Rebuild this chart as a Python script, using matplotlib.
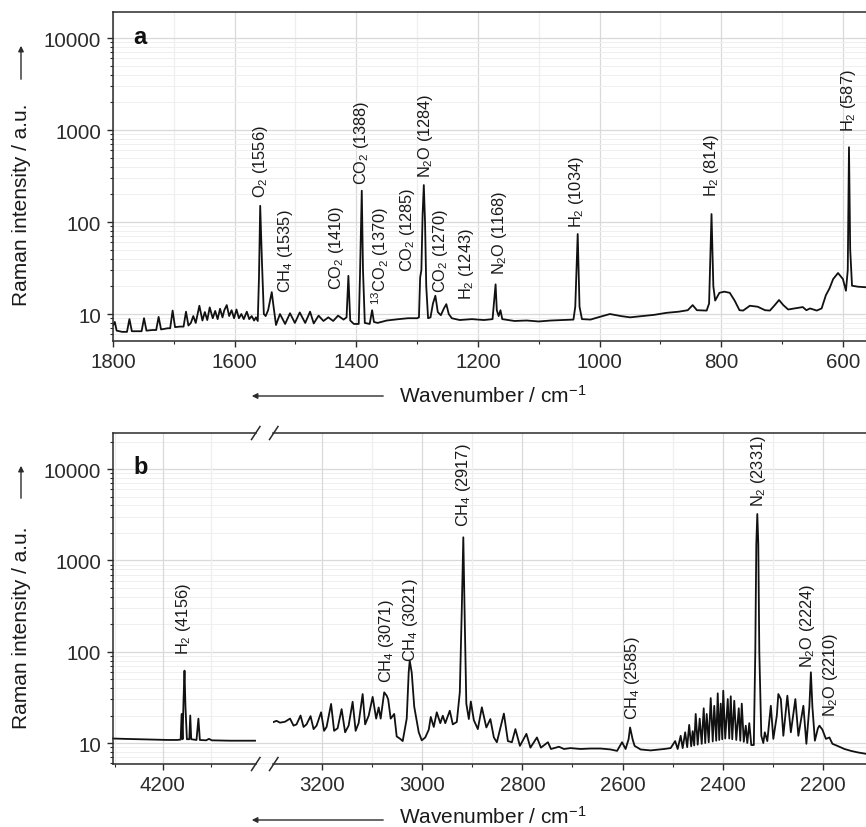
import numpy as np
import matplotlib
matplotlib.use('Agg')
import matplotlib.pyplot as plt
from matplotlib.ticker import MultipleLocator, LogLocator, NullFormatter, FixedLocator, FuncFormatter
from matplotlib.patches import FancyArrowPatch
from matplotlib.lines import Line2D

plt.rcParams['font.family'] = ['Liberation Sans', 'DejaVu Sans']
plt.rcParams['mathtext.fontset'] = 'custom'
plt.rcParams['mathtext.rm'] = 'Liberation Sans'
plt.rcParams['mathtext.it'] = 'Liberation Sans:italic'
plt.rcParams['mathtext.bf'] = 'Liberation Sans:bold'

# ---------------- data: panel a (wavenumber / intensity) ----------------
a_wn = [1800, 1797, 1794, 1785, 1777, 1773, 1769, 1760, 1753, 1749, 1745, 1735, 1729, 1725, 1721,
        1710, 1706, 1702, 1698, 1690, 1684, 1680, 1676, 1672, 1668, 1664, 1658, 1653, 1649, 1645,
        1641, 1636, 1632, 1628, 1624, 1620, 1617, 1613, 1609, 1605, 1601, 1597, 1593, 1589, 1585,
        1580, 1576, 1572, 1568, 1565, 1562, 1560, 1558, 1555, 1552, 1549, 1545, 1541, 1539, 1536,
        1532, 1525.5, 1517, 1509, 1501, 1493, 1484, 1476, 1470, 1462, 1454, 1446, 1438, 1430, 1421,
        1416, 1413, 1410, 1404, 1396, 1394, 1391, 1389, 1386, 1378, 1374, 1371, 1365, 1350, 1330,
        1315, 1300, 1297, 1295, 1293, 1291, 1289, 1287, 1285, 1282, 1278, 1274, 1270, 1266, 1261,
        1256, 1252, 1248, 1243, 1230, 1210, 1190, 1176, 1173, 1171, 1169, 1166, 1163, 1160, 1140,
        1120, 1100, 1080, 1060, 1043, 1040, 1036, 1033, 1029, 1015, 1000, 983, 965, 950, 930,
        910, 890, 870, 855, 847, 840, 824, 820, 816, 813, 810, 803, 795, 786, 778,
        770, 764, 753, 740, 728, 720, 712, 705, 698, 690, 680, 666, 660, 654, 643,
        635, 628, 622, 616, 608, 600, 595, 592, 590, 588, 585, 575, 562, 540]
a_int = [7.5, 8.2, 6.6, 6.4, 6.4, 8.8, 6.5, 6.5, 6.5, 9.0, 6.6, 6.7, 6.7, 9.3, 6.8,
         7.0, 7.0, 10.9, 7.2, 7.3, 7.3, 10.6, 7.5, 8.0, 9.5, 8.0, 12.3, 8.5, 10.5, 8.6,
         11.8, 9.0, 10.8, 8.8, 11.4, 9.2, 11.0, 12.5, 9.5, 11.0, 9.0, 11.2, 9.0, 10.0, 8.8,
         10.6, 8.8, 9.5, 8.5, 9.2, 8.4, 25, 150, 35, 10, 9.5, 11, 15, 17.3, 12,
         7.6, 10.0, 7.8, 10.2, 8.0, 10.4, 8.0, 10.6, 7.9, 9.6, 8.4, 9.2, 8.4, 9.6, 8.7,
         9.2, 26, 8.5, 7.8, 7.8, 25, 219, 30, 8.0, 7.8, 11.0, 8.2, 8.0, 8.5, 8.8,
         9.0, 9.0, 9.2, 25, 30, 120, 252, 100, 20, 9.0, 9.2, 13, 15.8, 10.5, 9.7,
         11.5, 12.8, 10, 9.0, 8.6, 8.8, 8.6, 8.8, 15, 21, 11, 9.5, 11, 8.8, 8.4,
         8.5, 8.3, 8.5, 8.6, 8.7, 12, 74, 12, 8.8, 8.7, 9.3, 10.0, 9.5, 9.2, 9.5,
         9.8, 10.3, 10.6, 11.0, 12.5, 11.0, 10.9, 13, 122, 20, 14, 17, 17.5, 17, 14,
         11, 10.9, 12.3, 12.0, 11, 10.9, 12.5, 14.2, 12.5, 11.2, 11.5, 11.9, 11.0, 11.5, 10.9,
         11.5, 16, 19, 24, 27.9, 24, 17.9, 30, 650, 50, 20.3, 19.8, 19.5, 19.5]

a_labels = ["O$_2$ (1556)", "CH$_4$ (1535)", "CO$_2$ (1410)", "CO$_2$ (1388)",
            "$^{13}$CO$_2$ (1370)", "CO$_2$ (1285)", "N$_2$O (1284)", "CO$_2$ (1270)",
            "H$_2$ (1243)", "N$_2$O (1168)", "H$_2$ (1034)", "H$_2$ (814)", "H$_2$ (587)"]
a_label_x = [1558, 1516, 1432, 1391, 1361, 1315, 1287, 1262, 1219, 1164, 1038, 816, 591]
a_label_y = [187, 17.3, 18.7, 259, 12.8, 29.6, 308, 17.2, 14.6, 27.2, 88, 193, 982]

# ---------------- data: panel b ----------------
b_left_wn = [4304, 4280, 4250, 4220, 4190, 4170, 4163, 4161, 4159, 4157, 4155, 4153, 4150,
             4145, 4143, 4141, 4130, 4126, 4123, 4110, 4104, 4098, 4060, 4030, 4008]
b_left_int = [11.2, 11.1, 11.0, 10.9, 10.8, 10.8, 10.9, 20.8, 11, 30, 62, 25, 11,
              11, 20, 11, 10.8, 18.5, 10.8, 10.7, 11.1, 10.7, 10.6, 10.6, 10.6]

b_right_wn = [3298, 3291, 3284, 3274, 3264, 3257, 3251, 3243, 3237, 3231, 3223, 3217, 3211, 3202,
              3196, 3191, 3182, 3176, 3169, 3161, 3154, 3147, 3139, 3133, 3127, 3119, 3114, 3107,
              3099, 3092, 3087, 3083, 3076, 3071, 3068, 3063, 3056, 3051, 3044, 3039, 3031, 3027,
              3025, 3021, 3016, 3007, 3001, 2994, 2987, 2983, 2977, 2971, 2964, 2959, 2954, 2945,
              2939, 2931, 2925, 2921, 2918, 2915, 2912, 2907, 2903, 2897, 2889, 2881, 2872, 2864,
              2857, 2851, 2837, 2829, 2821, 2814, 2805, 2792, 2784, 2771, 2763, 2749, 2743, 2727,
              2717, 2704, 2684, 2664, 2644, 2624, 2611, 2601, 2594, 2588, 2585, 2580, 2576, 2564,
              2544, 2517, 2504, 2495, 2490, 2484, 2480, 2475, 2471, 2467, 2463, 2460, 2457, 2454,
              2450, 2446, 2442, 2438, 2435, 2432, 2428, 2424, 2420, 2417, 2413, 2410, 2407, 2404,
              2401, 2399, 2395, 2390, 2387, 2384, 2381, 2377, 2373, 2368, 2365, 2362, 2358, 2354,
              2351, 2347, 2343, 2338, 2335, 2333, 2331, 2329, 2327, 2323, 2319, 2316, 2311, 2304,
              2299, 2292, 2289, 2284, 2279, 2271, 2264, 2255, 2249, 2239, 2233, 2227, 2224, 2221,
              2216, 2210, 2207, 2201, 2194, 2187, 2181, 2171, 2157, 2144, 2131, 2114, 2086]
b_right_int = [16.9, 17.5, 16.7, 17.1, 18.5, 15.5, 16.0, 20.0, 15.0, 16.0, 19.7, 14.2, 15.5, 21.7,
               13.6, 15.0, 26.8, 13.6, 14.5, 23.5, 13.1, 15.5, 28.3, 13.6, 16.5, 34.4, 16.0, 19.9,
               32.0, 18.5, 24.5, 18.5, 35.9, 33.0, 30, 18.5, 20.8, 11.8, 11.1, 10.5, 18.5, 60,
               79.6, 59, 25, 13.1, 10.7, 11.5, 14, 19.3, 15, 21.7, 16.5, 19.9, 16.5, 22.6,
               16.0, 17, 36, 300, 1790, 200, 27, 18.3, 28.5, 17.8, 14.2, 24.6, 14.8, 18.3,
               11.5, 10.2, 21.0, 10.5, 10.2, 14.2, 9.3, 12.6, 8.9, 11.5, 8.9, 10.2, 8.6, 9.1,
               8.6, 8.8, 8.6, 8.7, 8.7, 8.5, 8.2, 10.2, 8.6, 11, 14.8, 11, 9.3, 8.5,
               8.3, 8.6, 8.8, 10.5, 8.6, 12, 8.8, 13.1, 9.0, 15.8, 9.2, 13.5, 9.4, 20.8,
               9.6, 18.5, 9.8, 24, 10.0, 20.8, 10.2, 31, 10.4, 25.5, 10.6, 35, 10.8, 27,
               11.0, 37.4, 11.2, 30.3, 11.2, 32.5, 11.0, 29, 10.8, 24, 10.6, 27, 10.3, 15.5,
               10.0, 16.5, 9.5, 9.5, 100, 1500, 3221, 1500, 100, 12, 10, 13.1, 10.5, 25.6,
               11.1, 20, 34.4, 30.3, 12, 33, 13.1, 30.3, 12, 25.6, 9.8, 25, 59.5, 25,
               10.6, 14.5, 15.5, 14, 11.1, 11.5, 9.8, 9.3, 8.6, 8.2, 7.9, 7.6, 7.4]

b_left_labels = ["H$_2$ (4156)"]
b_left_label_x = [4157]
b_left_label_y = [94]
b_right_labels = ["CH$_4$ (3071)", "CH$_4$ (3021)", "CH$_4$ (2917)", "CH$_4$ (2585)",
                  "N$_2$ (2331)", "N$_2$O (2224)", "N$_2$O (2210)"]
b_right_label_x = [3071, 3023, 2917, 2581, 2329, 2231, 2184]
b_right_label_y = [46, 80, 2400, 18.3, 3980, 67.5, 19.9]

y_major = [10, 100, 1000, 10000]

# ---------------- figure ----------------
W, H = 866, 828
fig = plt.figure(figsize=(W / 100, H / 100), dpi=100)
fig.patch.set_facecolor('white')

INK = '#2b2b2b'
GRID_MAJ = '#d9d9d9'
GRID_MIN = '#efefef'
LABEL_FS = 11.8
TICK_FS = 14.8
LW = 1.3


def box(l, t, r, b):
    return [l / W, 1 - b / H, (r - l) / W, (b - t) / H]


def fx(px):
    return px / W


def fy(py):
    return 1 - py / H


def style_y(ax, ylim, show=True, hgrid=True):
    ax.set_yscale('log')
    ax.set_ylim(*ylim)
    ax.yaxis.set_major_locator(FixedLocator(y_major))
    ax.yaxis.set_major_formatter(FuncFormatter(lambda v, p: f'{int(round(v))}'))
    ax.yaxis.set_minor_locator(LogLocator(base=10, subs=np.arange(2, 10)))
    ax.yaxis.set_minor_formatter(NullFormatter())
    if hgrid:
        ax.grid(which='major', axis='y', color=GRID_MAJ, lw=0.9)
        ax.grid(which='minor', axis='y', color=GRID_MIN, lw=0.7)
    if show:
        ax.tick_params(axis='y', which='major', direction='out', length=4.5, width=1.0,
                       colors=INK, labelsize=TICK_FS, pad=4)
        ax.tick_params(axis='y', which='minor', direction='out', length=2.3, width=0.8, colors=INK)
    else:
        ax.tick_params(axis='y', which='both', left=False, labelleft=False)


def style_x(ax, xlim):
    ax.set_xlim(*xlim)
    ax.xaxis.set_major_locator(MultipleLocator(200))
    ax.xaxis.set_minor_locator(MultipleLocator(100))
    ax.grid(which='major', axis='x', color=GRID_MAJ, lw=0.9)
    ax.grid(which='minor', axis='x', color=GRID_MIN, lw=0.9)
    ax.tick_params(axis='x', which='major', direction='out', length=4.5, width=1.0,
                   colors=INK, labelsize=TICK_FS, pad=3.5)
    ax.tick_params(axis='x', which='minor', direction='out', length=2.5, width=0.8, colors=INK)
    ax.set_axisbelow(True)


def spines(ax, left=True, right=False):
    for s in ax.spines.values():
        s.set_color(INK)
        s.set_linewidth(1.1)
    ax.spines['right'].set_visible(right)
    ax.spines['left'].set_visible(left)


def labels(ax, texts, xs, ys):
    for t, x, y in zip(texts, xs, ys):
        ax.text(x, y, t, rotation=90, ha='center', va='bottom', fontsize=LABEL_FS,
                color='#1a1a1a')


# ---------------- panel a ----------------
ax_a = fig.add_axes(box(113, 13, 880, 342))
style_y(ax_a, (5.09, 19170))
style_x(ax_a, (1800, 539))
spines(ax_a)
ax_a.plot(a_wn, a_int, color='#111111', lw=LW)
labels(ax_a, a_labels, a_label_x, a_label_y)
ax_a.text(0.027, 0.905, 'a', transform=ax_a.transAxes, fontsize=17, fontweight='bold',
          color='#111111', ha='left', va='baseline')

# ---------------- panel b ----------------
B_TOP, B_BOT = 434, 765
ylim_b = (5.89, 24850)
ax_bg = fig.add_axes(box(113, B_TOP, 880, B_BOT), zorder=0)
style_y(ax_bg, ylim_b, show=False)
ax_bg.set_xlim(0, 1)
ax_bg.tick_params(axis='x', which='both', bottom=False, labelbottom=False)
for s in ax_bg.spines.values():
    s.set_visible(False)

ax_b1 = fig.add_axes(box(113, B_TOP, 256, B_BOT), zorder=1)
ax_b1.set_facecolor('none')
style_y(ax_b1, ylim_b, show=True, hgrid=False)
style_x(ax_b1, (4304, 4006))
spines(ax_b1, left=True)
ax_b1.plot(b_left_wn, b_left_int, color='#111111', lw=LW, clip_on=False)
labels(ax_b1, b_left_labels, b_left_label_x, b_left_label_y)
ax_b1.text(0.14, 0.88, 'b', transform=ax_b1.transAxes, fontsize=17, fontweight='bold',
           color='#111111', ha='left', va='baseline')

ax_b2 = fig.add_axes(box(273, B_TOP, 880, B_BOT), zorder=1)
ax_b2.set_facecolor('none')
style_y(ax_b2, ylim_b, show=False, hgrid=False)
style_x(ax_b2, (3298, 2086))
spines(ax_b2, left=False)
ax_b2.plot(b_right_wn, b_right_int, color='#111111', lw=LW)
labels(ax_b2, b_right_labels, b_right_label_x, b_right_label_y)

# break marks
for yy in (B_TOP, B_BOT):
    for x0 in (251.5, 269.5):
        fig.add_artist(Line2D([fx(x0), fx(x0 + 8.5)], [fy(yy + 6.5), fy(yy - 6.5)],
                              transform=fig.transFigure, color=INK, lw=1.1))

# ---------------- axis labels and arrows ----------------
def yarrow_label(center_y, arrow_bottom, arrow_top):
    fig.text(fx(22), fy(center_y), 'Raman intensity / a.u.', rotation=90, ha='center',
             va='center', fontsize=15, color='#1a1a1a')
    fig.add_artist(FancyArrowPatch((fx(21), fy(arrow_bottom)), (fx(21), fy(arrow_top)),
                                   transform=fig.transFigure, arrowstyle='-|>',
                                   mutation_scale=8, lw=1.0, color=INK))


def xarrow_label(baseline_y, arrow_y):
    fig.text(fx(399), fy(baseline_y), 'Wavenumber / cm$^{-1}$', ha='left', va='baseline',
             fontsize=15, color='#1a1a1a')
    fig.add_artist(FancyArrowPatch((fx(386), fy(arrow_y)), (fx(249), fy(arrow_y)),
                                   transform=fig.transFigure, arrowstyle='-|>',
                                   mutation_scale=8, lw=1.0, color=INK))


yarrow_label(205, 83, 44)
yarrow_label(628, 502, 464)
xarrow_label(403, 397)
xarrow_label(824, 821)

fig.savefig('out.png', dpi=100, facecolor='white')
